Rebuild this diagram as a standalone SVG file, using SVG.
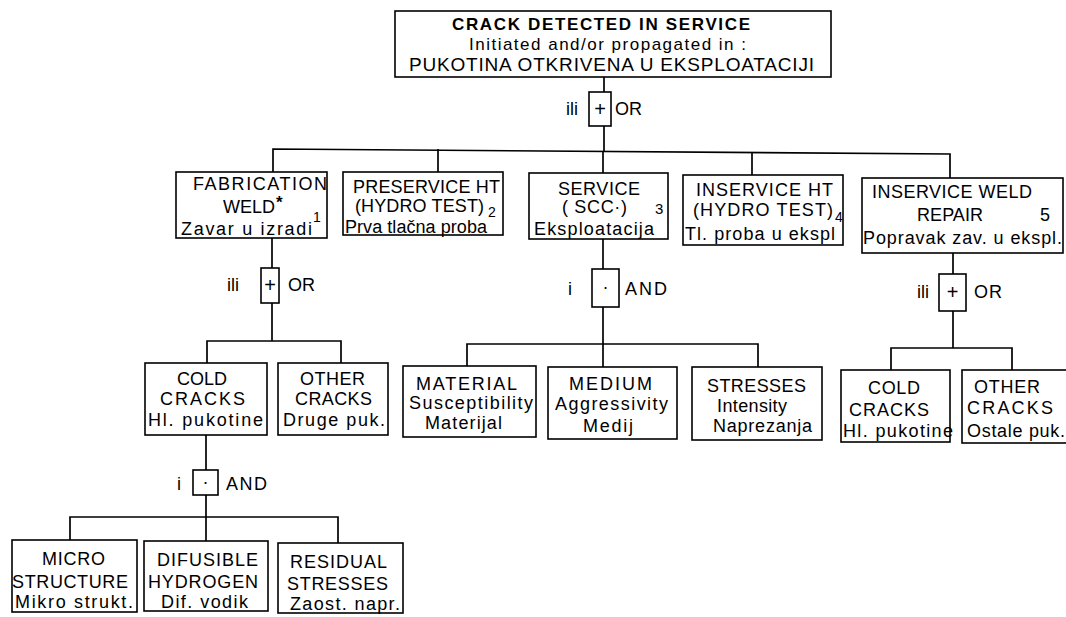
<svg xmlns="http://www.w3.org/2000/svg" width="1066" height="617" viewBox="0 0 1066 617">
<style>
text{font-family:"Liberation Sans",Arial,sans-serif;font-size:18px;fill:#000}
.b{font-weight:bold;font-size:17px}
.s{font-size:14px}
.g{font-size:18px}
.p{font-size:20px}
rect{fill:#fff;stroke:#000;stroke-width:1.6}
.c line,.c polyline{stroke:#000;stroke-width:1.7;fill:none}
</style>
<rect x="0" y="0" width="1066" height="617" style="fill:#fff;stroke:none"/>
<g class="c" id="connectors">
<line x1="604" y1="77" x2="604" y2="92"/>
<line x1="604" y1="126" x2="604" y2="151"/>
<polyline points="273,172 273,149 950,154 950,178"/>
<line x1="438" y1="149" x2="438" y2="172"/>
<line x1="603" y1="151" x2="603" y2="173"/>
<line x1="752" y1="152" x2="752" y2="175"/>
<line x1="272" y1="238" x2="272" y2="268"/>
<line x1="272" y1="303" x2="272" y2="341"/>
<polyline points="207,363 207,341 341,341 341,363"/>
<line x1="603" y1="239" x2="603" y2="269"/>
<line x1="603" y1="307" x2="603" y2="344"/>
<polyline points="467,366 467,344 758,344 758,367"/>
<line x1="603" y1="344" x2="603" y2="367"/>
<line x1="953" y1="253" x2="953" y2="274"/>
<line x1="953" y1="311" x2="953" y2="348"/>
<polyline points="891,370 891,348 1012,348 1012,370"/>
<line x1="206" y1="435" x2="206" y2="470"/>
<line x1="206" y1="495" x2="206" y2="517"/>
<polyline points="70,540 70,517 338,517 338,543"/>
<line x1="206" y1="517" x2="206" y2="541"/>
</g>
<g id="top">
<rect x="395" y="11" width="436" height="66"/>
<text class="b" x="452" y="30" textLength="298">CRACK DETECTED IN SERVICE</text>
<text x="469" y="50" textLength="277" style="font-size:17px">Initiated and/or propagated in :</text>
<text x="409" y="71" textLength="405" style="font-size:19px">PUKOTINA OTKRIVENA U EKSPLOATACIJI</text>
</g>
<g id="gate-or-top">
<rect x="589" y="92" width="22" height="34"/>
<text class="p" x="600" y="116" text-anchor="middle">+</text>
<text class="g" x="566" y="115">ili</text>
<text class="g" x="615" y="115">OR</text>
</g>
<g id="fabrication">
<rect x="176" y="172" width="151" height="66"/>
<text x="193" y="190" textLength="134">FABRICATION</text>
<text x="223" y="213">WELD</text>
<text x="276" y="208" style="font-size:17px;font-weight:bold">*</text>
<text x="313" y="222" class="s">1</text>
<text x="181" y="235" textLength="131">Zavar u izradi</text>
</g>
<g id="preservice">
<rect x="343" y="172" width="160" height="63"/>
<text x="353" y="193" textLength="147">PRESERVICE HT</text>
<text x="355" y="212" textLength="129">(HYDRO TEST)</text>
<text x="488" y="217" class="s">2</text>
<text x="345" y="233" textLength="142">Prva tlačna proba</text>
</g>
<g id="service">
<rect x="529" y="173" width="139" height="66"/>
<text x="558" y="195" textLength="82">SERVICE</text>
<text x="562" y="213" textLength="65">( SCC·)</text>
<text x="655" y="214" style="font-size:15px">3</text>
<text x="534" y="235" textLength="120">Eksploatacija</text>
</g>
<g id="inservice-ht">
<rect x="683" y="175" width="160" height="70"/>
<text x="696" y="196" textLength="137">INSERVICE HT</text>
<text x="693" y="216" textLength="140">(HYDRO TEST)</text>
<text x="835" y="222" class="s">4</text>
<text x="685" y="240" textLength="150">Tl. proba u ekspl</text>
</g>
<g id="inservice-weld-repair">
<rect x="862" y="178" width="201" height="75"/>
<text x="872" y="198" textLength="160">INSERVICE WELD</text>
<text x="917" y="221" textLength="66">REPAIR</text>
<text x="1040" y="221">5</text>
<text x="863" y="244" textLength="199">Popravak zav. u ekspl.</text>
</g>
<g id="gate-or-fab">
<rect x="261" y="268" width="18" height="35"/>
<text class="p" x="270" y="292" text-anchor="middle">+</text>
<text class="g" x="227" y="291">ili</text>
<text class="g" x="288" y="291">OR</text>
</g>
<g id="gate-and-service">
<rect x="592" y="269" width="27" height="38"/>
<text x="605.5" y="293" text-anchor="middle">·</text>
<text class="g" x="568" y="295">i</text>
<text class="g" x="625" y="295" textLength="42">AND</text>
</g>
<g id="gate-or-repair">
<rect x="939" y="274" width="27" height="37"/>
<text class="p" x="952.5" y="299" text-anchor="middle">+</text>
<text class="g" x="917" y="298">ili</text>
<text class="g" x="974" y="298" textLength="28">OR</text>
</g>
<g id="cold-cracks">
<rect x="145" y="363" width="122" height="72"/>
<text x="177" y="385" textLength="50">COLD</text>
<text x="160" y="405" textLength="85">CRACKS</text>
<text x="148" y="426" textLength="115">Hl. pukotine</text>
</g>
<g id="other-cracks">
<rect x="278" y="363" width="110" height="72"/>
<text x="300" y="385" textLength="65">OTHER</text>
<text x="295" y="405" textLength="77">CRACKS</text>
<text x="283" y="426" textLength="102">Druge puk.</text>
</g>
<g id="material">
<rect x="403" y="366" width="133" height="71"/>
<text x="416" y="390" textLength="101">MATERIAL</text>
<text x="409" y="409" textLength="124">Susceptibility</text>
<text x="425" y="429" textLength="77">Materijal</text>
</g>
<g id="medium">
<rect x="548" y="367" width="129" height="72"/>
<text x="569" y="390" textLength="83">MEDIUM</text>
<text x="555" y="410" textLength="113">Aggressivity</text>
<text x="583" y="432" textLength="50">Medij</text>
</g>
<g id="stresses">
<rect x="692" y="367" width="130" height="73"/>
<text x="707" y="392" textLength="99">STRESSES</text>
<text x="717" y="412" textLength="70">Intensity</text>
<text x="713" y="432" textLength="99">Naprezanja</text>
</g>
<g id="cold-cracks-repair">
<rect x="841" y="370" width="109" height="72"/>
<text x="868" y="394" textLength="52">COLD</text>
<text x="849" y="416" textLength="80">CRACKS</text>
<text x="843" y="437" textLength="110">Hl. pukotine</text>
</g>
<g id="other-cracks-repair">
<rect x="962" y="370" width="110" height="73"/>
<text x="974" y="393" textLength="66">OTHER</text>
<text x="967" y="414" textLength="86">CRACKS</text>
<text x="967" y="437" textLength="98">Ostale puk.</text>
</g>
<g id="gate-and-cold">
<rect x="193" y="470" width="25" height="25"/>
<text x="205.5" y="488" text-anchor="middle">·</text>
<text class="g" x="177" y="490">i</text>
<text class="g" x="226" y="490" textLength="41">AND</text>
</g>
<g id="micro-structure">
<rect x="12" y="540" width="125" height="72"/>
<text x="42" y="565" textLength="63">MICRO</text>
<text x="12" y="588" textLength="116">STRUCTURE</text>
<text x="15" y="608" textLength="118">Mikro strukt.</text>
</g>
<g id="difusible-hydrogen">
<rect x="144" y="541" width="124" height="70"/>
<text x="157" y="566" textLength="101">DIFUSIBLE</text>
<text x="148" y="588" textLength="110">HYDROGEN</text>
<text x="161" y="608" textLength="87">Dif. vodik</text>
</g>
<g id="residual-stresses">
<rect x="278" y="543" width="125" height="70"/>
<text x="290" y="568" textLength="97">RESIDUAL</text>
<text x="287" y="590" textLength="101">STRESSES</text>
<text x="290" y="610" textLength="110">Zaost. napr.</text>
</g>
</svg>
